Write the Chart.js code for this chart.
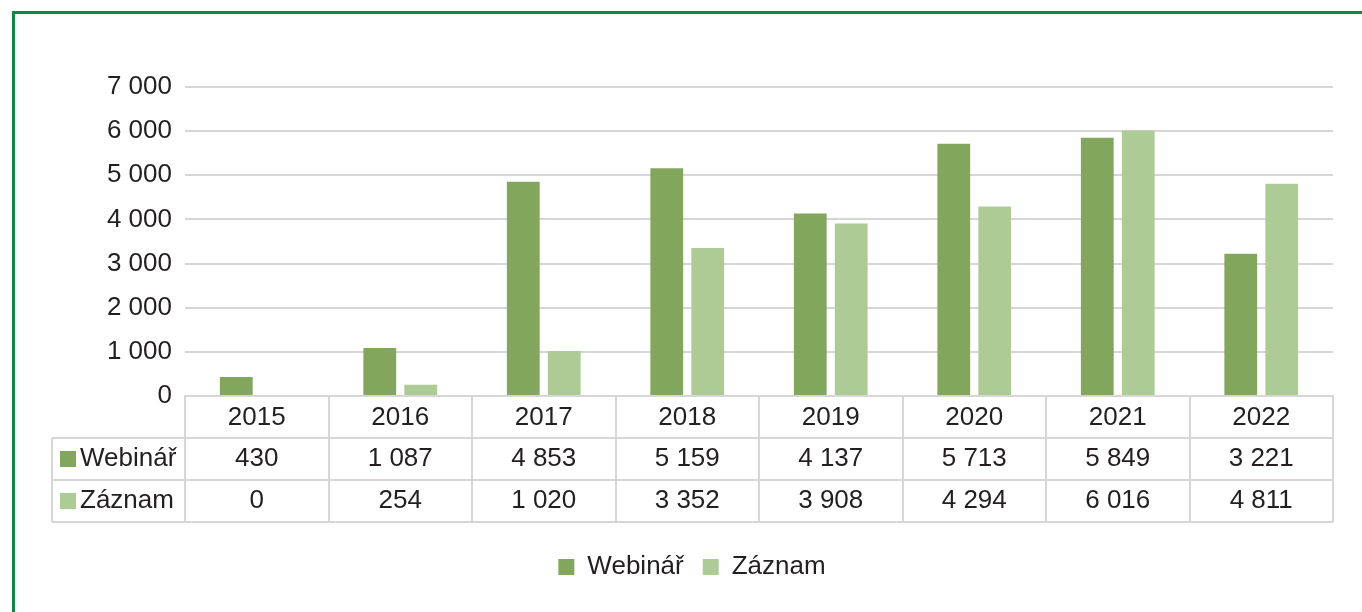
<!DOCTYPE html>
<html>
<head>
<meta charset="utf-8">
<script src="https://cdn.jsdelivr.net/npm/chart.js@4/dist/chart.umd.min.js"></script>
<style>
  html, body { margin: 0; padding: 0; background: #fff; }
  #wrap { width: 1362px; height: 612px; position: relative; }
</style>
</head>
<body>
<div id="wrap"><canvas id="chart"></canvas></div>
<script>
const years = ['2015', '2016', '2017', '2018', '2019', '2020', '2021', '2022'];
const webinar = [430, 1087, 4853, 5159, 4137, 5713, 5849, 3221];
const zaznam = [0, 254, 1020, 3352, 3908, 4294, 6016, 4811];
const seriesNames = ['Webinář', 'Záznam'];
const yTicks = [0, 1000, 2000, 3000, 4000, 5000, 6000, 7000];

const darkGreen = '#82a65c';
const lightGreen = '#adcb95';
const lineGray = '#d6d6d6';
const textColor = '#231f20';
const fontFamily = "'Liberation Sans', Arial, sans-serif";
const fontSize = 26;

Chart.defaults.font.family = fontFamily;
Chart.defaults.font.size = fontSize;
Chart.defaults.color = textColor;

function fmt(v) {
  return String(v).replace(/\B(?=(\d{3})+(?!\d))/g, ' ');
}

// green frame of the picture (top and left edge only)
const framePlugin = {
  id: 'frame',
  beforeDraw(chart) {
    const ctx = chart.ctx;
    ctx.save();
    ctx.fillStyle = '#fff';
    ctx.fillRect(0, 0, chart.width, chart.height);
    ctx.fillStyle = '#0f8a43';
    ctx.fillRect(12, 11, chart.width, 3);
    ctx.fillRect(12, 11, 3, chart.height);
    ctx.restore();
  }
};

// data table under the plot
const tablePlugin = {
  id: 'dataTable',
  afterDraw(chart) {
    const ctx = chart.ctx;
    const xs = chart.scales.x;
    const area = chart.chartArea;
    const rowH = 42;
    const top = area.bottom;
    const bottom = top + rowH * 3;
    const tableLeft = 52;
    const catW = (area.right - area.left) / years.length;

    ctx.save();
    ctx.strokeStyle = lineGray;
    ctx.lineWidth = 2;
    ctx.beginPath();
    // vertical lines
    for (let i = 0; i <= years.length; i++) {
      const x = Math.round(area.left + i * catW);
      ctx.moveTo(x, top);
      ctx.lineTo(x, bottom);
    }
    ctx.moveTo(tableLeft, top + rowH);
    ctx.lineTo(tableLeft, bottom);
    // horizontal lines
    for (let r = 1; r <= 3; r++) {
      ctx.moveTo(tableLeft, top + rowH * r);
      ctx.lineTo(area.right, top + rowH * r);
    }
    ctx.stroke();

    ctx.font = fontSize + 'px ' + fontFamily;
    ctx.fillStyle = textColor;
    ctx.textBaseline = 'middle';
    const rows = [webinar, zaznam];
    const colors = [darkGreen, lightGreen];
    rows.forEach((vals, r) => {
      const cy = top + rowH * (r + 1) + rowH / 2;
      ctx.fillStyle = colors[r];
      ctx.fillRect(60, Math.round(cy - 8), 16, 16);
      ctx.fillStyle = textColor;
      ctx.textAlign = 'left';
      ctx.fillText(seriesNames[r], 80, cy);
      ctx.textAlign = 'center';
      vals.forEach((v, i) => {
        ctx.fillText(fmt(v), xs.getPixelForTick(i), cy);
      });
    });
    ctx.restore();
  }
};

new Chart(document.getElementById('chart'), {
  type: 'bar',
  data: {
    labels: years,
    datasets: [
      { label: seriesNames[0], data: webinar, backgroundColor: darkGreen },
      { label: seriesNames[1], data: zaznam, backgroundColor: lightGreen }
    ]
  },
  options: {
    responsive: true,
    maintainAspectRatio: false,
    animation: false,
    categoryPercentage: 0.571,
    barPercentage: 0.8,
    layout: { padding: { left: 51, right: 29, top: 87, bottom: 22 } },
    plugins: {
      tooltip: { enabled: false },
      legend: {
        position: 'bottom',
        labels: {
          boxWidth: 16,
          boxHeight: 16,
          padding: 19,
          color: textColor,
          font: { size: fontSize }
        }
      }
    },
    scales: {
      x: {
        grid: { display: false, drawTicks: false },
        border: { display: true, color: lineGray, width: 2 },
        ticks: { padding: 6, color: textColor, font: { size: fontSize } },
        afterFit(scale) { scale.height = 139; }
      },
      y: {
        min: 0,
        max: 7000,
        afterBuildTicks(scale) { scale.ticks = yTicks.map(v => ({ value: v })); },
        grid: { color: lineGray, lineWidth: 2, drawTicks: false },
        border: { display: false },
        ticks: { padding: 13, color: textColor, font: { size: fontSize }, callback: v => fmt(v) },
        afterFit(scale) { scale.width = 134; }
      }
    }
  },
  plugins: [framePlugin, tablePlugin]
});
</script>
</body>
</html>
